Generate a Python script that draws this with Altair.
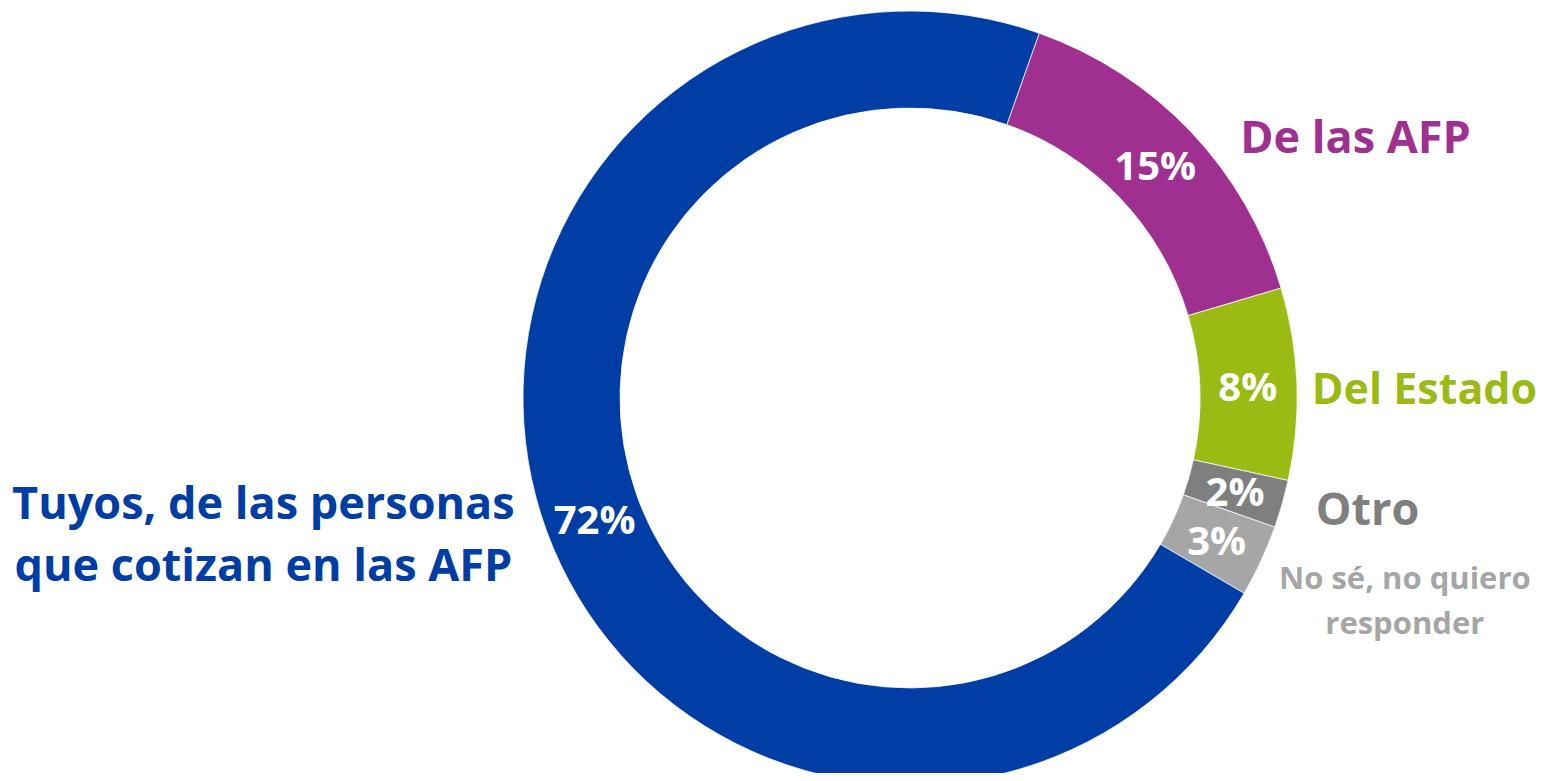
import math
import altair as alt
import pandas as pd

# --- data ---
categories = ["De las AFP", "Del Estado", "Otro", "No sé, no quiero responder",
              "Tuyos, de las personas que cotizan en las AFP"]
labels = ["De las AFP", "Del Estado", "Otro", "No sé, no quiero\nresponder",
          "Tuyos, de las personas\nque cotizan en las AFP"]
values = [15, 8, 2, 3, 72]
pct_labels = ["15%", "8%", "2%", "3%", "72%"]
colors = ["#A0308F", "#9BBB14", "#7F7F7F", "#A6A6A6", "#003DA5"]

df = pd.DataFrame({
    "category": categories,
    "label": labels,
    "value": values,
    "pct": pct_labels,
    "order": list(range(len(categories))),
})

start = math.radians(19.5)
theta_scale = alt.Scale(domain=[0, 100], range=[start, start + 2 * math.pi])
color_scale = alt.Scale(domain=categories, range=colors)

FONT = "Open Sans"
R_OUT, R_IN = 387, 290

base = (
    alt.Chart(df)
    .transform_window(cum="sum(value)", sort=[alt.SortField("order")])
    .transform_calculate(start="datum.cum - datum.value",
                         mid="datum.cum - datum.value / 2")
)

arcs = base.mark_arc(outerRadius=R_OUT, innerRadius=R_IN, stroke="white",
                     strokeWidth=0.75).encode(
    theta=alt.Theta("start:Q", scale=theta_scale),
    theta2="cum:Q",
    color=alt.Color("category:N", scale=color_scale, legend=None),
)

pct_small = base.transform_filter(alt.datum.value < 50).mark_text(
    radius=338, font=FONT, fontSize=40, fontWeight="bold", color="white",
    align="center", baseline="middle", dy=3).encode(
    theta=alt.Theta("mid:Q", scale=theta_scale),
    text="pct:N",
)
pct_big = base.transform_filter(alt.datum.value >= 50).mark_text(
    radius=338, font=FONT, fontSize=40, fontWeight="bold", color="white",
    align="center", baseline="middle", dx=2, dy=8).encode(
    theta=alt.Theta("mid:Q", scale=theta_scale),
    text="pct:N",
)

# per-label offsets for the outside category names
label_specs = [
    (categories[0], "left", 40, 16, 45, 60),
    (categories[1], "left", 2, 8, 43, 60),
    (categories[2], "left", 21, 3, 45, 60),
    (categories[3], "center", 132, 14, 31, 45),
    (categories[4], "center", -271, -30, 45, 62),
]

label_layers = []
for cat, align, dx, dy, fs, lh in label_specs:
    col = colors[categories.index(cat)]
    label_layers.append(
        base.transform_filter(alt.datum.category == cat)
        .mark_text(radius=400, font=FONT, fontSize=fs, fontWeight="bold",
                   color=col, align=align, baseline="middle", dx=dx, dy=dy,
                   lineBreak="\n", lineHeight=lh)
        .encode(theta=alt.Theta("mid:Q", scale=theta_scale), text="label:N")
    )

chart = (
    alt.layer(arcs, pct_small, pct_big, *label_layers)
    .properties(width=774, height=750, autosize="none",
                padding={"left": 515, "top": 15, "right": 245, "bottom": 0},
                background="white")
    .configure_view(stroke=None)
)

chart.save("out.html", embed_options={"renderer": "svg", "actions": False})
